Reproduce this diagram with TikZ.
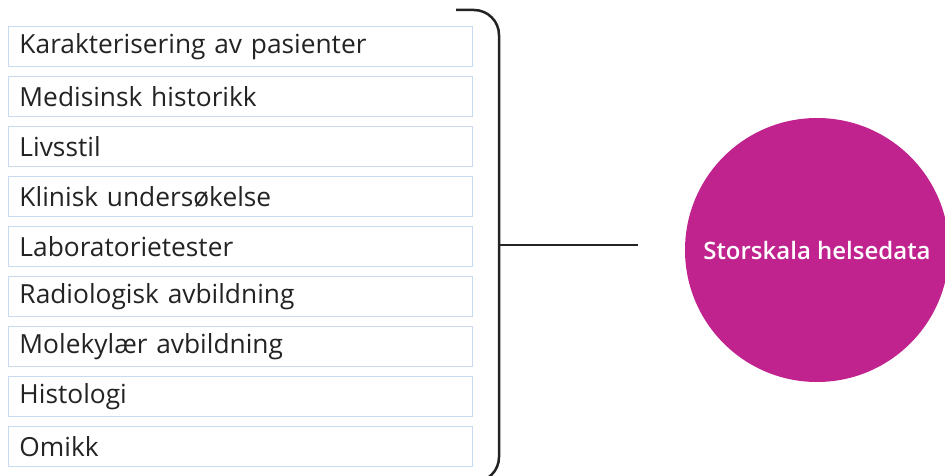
\documentclass[tikz,border=0pt]{standalone}
\usepackage{fontspec}
\setmainfont{Open Sans}
\newfontfamily\halvfet{Open Sans Semibold}
\usepackage{tikz}
\usetikzlibrary{calc}

\definecolor{boxline}{RGB}{200,218,240}
\definecolor{darkline}{RGB}{35,35,35}
\definecolor{helsemagenta}{RGB}{192,35,142}

\tikzset{
    kilde/.style={draw=boxline, line width=1pt, anchor=north west,
        minimum height=40pt, inner xsep=11pt, inner ysep=0pt,
        text width=442pt, align=left, font=\fontsize{26.3}{30}\selectfont,
        text=darkline},
}

\begin{document}
\begin{tikzpicture}[x=1pt,y=-1pt]

    \useasboundingbox (0,0) rectangle (945,476);

    % list of data sources
    \foreach \navn [count=\i from 0] in {Karakterisering av pasienter,
        Medisinsk historikk, Livsstil, Klinisk undersøkelse,
        Laboratorietester, Radiologisk avbildning, Molekylær avbildning,
        Histologi, Omikk}
        \node (kilde\i) at (8,26+50*\i) [kilde] {\navn};

    % bracket
    \draw [darkline, line width=2.5pt, rounded corners=25pt]
        (456,10) -- (499,10) -- (499,482) -- (456,482);

    \coordinate (brace) at (499,245);
    \coordinate (lineend) at (638,245);
    \draw [darkline, line width=2.5pt] (brace) -- (lineend);

    % big data
    \node (helse) at (817,250) [circle, fill=helsemagenta, minimum size=264pt,
        text=white, font=\fontsize{24}{28}\halvfet] {Storskala helsedata};

\end{tikzpicture}
\end{document}
